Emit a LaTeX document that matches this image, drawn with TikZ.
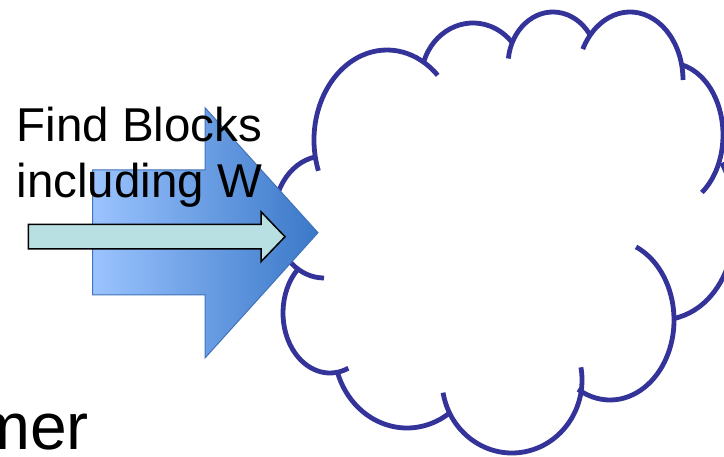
\documentclass[tikz,border=0pt]{standalone}
\usepackage{fontspec}
\setmainfont{Liberation Sans}
\usepackage{tikz}
\definecolor{cloudblue}{RGB}{51,51,153}
\definecolor{arrowlight}{RGB}{155,195,255}
\definecolor{arrowdark}{RGB}{58,120,200}
\definecolor{arrowedge}{RGB}{65,115,185}
\definecolor{smallfill}{RGB}{184,224,226}

\begin{document}
\begin{tikzpicture}[
    x=1pt, y=1pt,
    puff/.style={draw=cloudblue, line width=4.8pt},
    bigarrow/.style={draw=arrowedge, line width=1pt, left color=arrowlight, right color=arrowdark},
    smallarrow/.style={draw=black, line width=1.5pt, fill=smallfill},
    blocktext/.style={font=\fontsize{47.5}{56}\selectfont, inner sep=0pt, anchor=base west}
]
\clip (0,0) rectangle (724,456);

\draw[puff] ([shift={(100:50pt and 61pt)}]324,239) arc[start angle=100, end angle=270, x radius=50pt, y radius=61pt];
\draw[puff] ([shift={(200:73pt and 90pt)}]387,316) arc[start angle=200, end angle=46, x radius=73pt, y radius=90pt];
\draw[puff] ([shift={(161:52pt and 57pt)}]473,376) arc[start angle=161, end angle=40, x radius=52pt, y radius=57pt];
\draw[puff] ([shift={(173:45pt and 53pt)}]553,391) arc[start angle=173, end angle=36, x radius=45pt, y radius=53pt];
\draw[puff] ([shift={(153:53pt and 68pt)}]630,376) arc[start angle=153, end angle=0, x radius=53pt, y radius=68pt];
\draw[puff] ([shift={(77:53pt and 72pt)}]670,321) arc[start angle=77, end angle=-53, x radius=53pt, y radius=72pt];
\draw[puff] (721.7,293) .. controls (750,241) and (735,151) .. (673.3,137.3);
\draw[puff] ([shift={(66:64pt and 80pt)}]610,136) arc[start angle=66, end angle=-120, x radius=64pt, y radius=80pt];
\draw[puff] ([shift={(190:70pt and 73pt)}]512,76) arc[start angle=190, end angle=370, x radius=70pt, y radius=73pt];
\draw[puff] ([shift={(198:73pt and 80pt)}]407,108) arc[start angle=198, end angle=306, x radius=73pt, y radius=80pt];
\draw[puff] ([shift={(133:47pt and 60pt)}]330,143) arc[start angle=133, end angle=293, x radius=47pt, y radius=60pt];

\draw[bigarrow] (92.7,161) -- (92.7,286) -- (205,286) -- (205,348.3) -- (318,223.3) -- (205,98) -- (205,161) -- cycle;
\draw[smallarrow] (28.3,207) -- (28.3,231.7) -- (261,231.7) -- (261,244.3) -- (285,219.3) -- (261,194.3) -- (261,207) -- cycle;

\node[blocktext] (find) at (16.5,314.3) {Find Blocks};
\node[blocktext] (incl) at (16.5,258) {including W};
\node[font=\fontsize{66}{70}\selectfont, inner sep=0pt, anchor=base east] (mer) at (89,7) {mer};
\end{tikzpicture}
\end{document}
